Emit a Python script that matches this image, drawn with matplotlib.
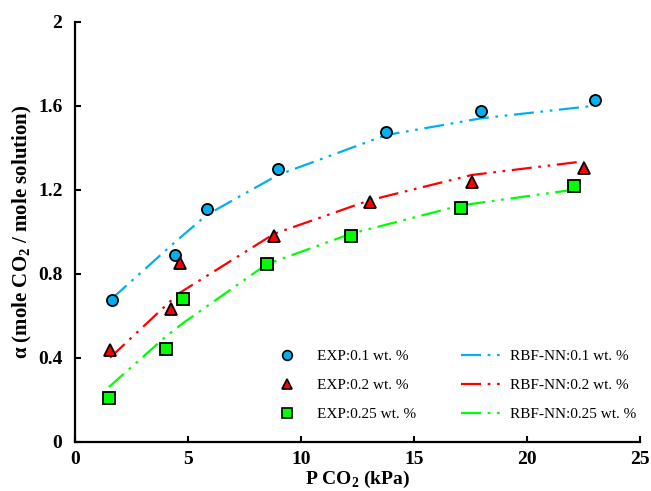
import matplotlib
matplotlib.use('Agg')
import matplotlib.pyplot as plt
from matplotlib.lines import Line2D

plt.rcParams['font.family'] = ['Liberation Serif', 'DejaVu Serif']
plt.rcParams['mathtext.fontset'] = 'custom'
plt.rcParams['mathtext.rm'] = 'Liberation Serif'
plt.rcParams['mathtext.bf'] = 'Liberation Serif:bold'

# experimental points (P CO2 in kPa, loading alpha)
p_01 = [1.62, 4.42, 5.83, 8.98, 13.76, 17.96, 23.0]
a_01 = [0.673, 0.890, 1.110, 1.300, 1.476, 1.575, 1.627]
p_02 = [1.55, 4.23, 4.65, 8.81, 13.04, 17.55, 22.5]
a_02 = [0.437, 0.630, 0.850, 0.980, 1.141, 1.238, 1.302]
p_025 = [1.50, 4.01, 4.78, 8.48, 12.2, 17.06, 22.07]
a_025 = [0.208, 0.440, 0.680, 0.845, 0.981, 1.114, 1.218]

# RBF-NN predictions at the same pressures
rbf_01 = [0.68, 0.95, 1.08, 1.27, 1.46, 1.54, 1.60]
rbf_02 = [0.40, 0.67, 0.71, 0.99, 1.15, 1.27, 1.335]
rbf_025 = [0.26, 0.50, 0.565, 0.845, 0.99, 1.125, 1.20]

labels = ['0.1', '0.2', '0.25']
colors = ['#00B0F0', '#FF0000', '#00FF00']
markers = ['o', '^', 's']

DASH = (0, (9, 3, 1.2, 3, 1.2, 3))

fig = plt.figure(figsize=(6.51, 4.91), dpi=100)
ax = fig.add_axes([0.1152, 0.1004, 0.868, 0.8554])

series = [(p_01, a_01, rbf_01), (p_02, a_02, rbf_02), (p_025, a_025, rbf_025)]
exp_h, rbf_h = [], []
for (p, a, r), lab, c, m in zip(series, labels, colors, markers):
    ax.plot(p, r, color=c, lw=1.6, ls=DASH, zorder=2)
    ax.plot(p, a, ls='none', marker=m, ms=8, mfc=c, mec='black', mew=1.3, zorder=3)
    exp_h.append(Line2D([], [], ls='none', marker=m, ms=7, mfc=c, mec='black', mew=1.2,
                        label=f'EXP:{lab} wt. %'))
    rbf_h.append(Line2D([], [], color=c, lw=1.6, ls=DASH, label=f'RBF-NN:{lab} wt. %'))

ax.set_xlim(0, 25)
ax.set_ylim(0, 2)
ax.set_xticks([0, 5, 10, 15, 20, 25])
ax.set_yticks([0, 0.4, 0.8, 1.2, 1.6, 2])
ax.set_yticklabels(['0', '0.4', '0.8', '1.2', '1.6', '2'])
ax.tick_params(direction='in', length=4, width=1.5, labelsize=14)
ax.tick_params(axis='x', pad=7)
ax.tick_params(axis='y', pad=9)
for t in ax.get_xticklabels() + ax.get_yticklabels():
    t.set_fontweight('bold')
ax.spines['top'].set_visible(False)
ax.spines['right'].set_visible(False)
for s in ('left', 'bottom'):
    ax.spines[s].set_linewidth(1.6)

ax.set_xlabel(r'P CO$_\mathbf{2}$ (kPa)', fontsize=14, fontweight='bold', labelpad=0)
ax.set_ylabel(r'$\mathbf{\alpha}$ (mole CO$_\mathbf{2}$ / mole solution)', fontsize=15,
              fontweight='bold', labelpad=3)

ax.legend(handles=exp_h + rbf_h, ncol=2, frameon=False, fontsize=11,
          loc='lower right', bbox_to_anchor=(1.018, 0.016), handlelength=2.6,
          handletextpad=0.65, columnspacing=2.9, labelspacing=1.0)

fig.savefig('out.png', dpi=100)
